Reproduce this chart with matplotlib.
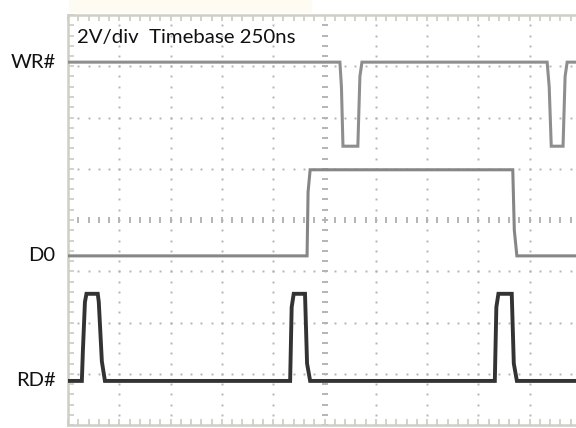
import numpy as np
import matplotlib.pyplot as plt

# time axis in divisions (10 div across), voltage axis in divisions (8 div high)
wr_t = [0, 5.30, 5.33, 5.36, 5.65, 5.69, 5.73, 9.34, 9.38, 9.42, 9.65, 9.69, 9.73, 10.2]
wr_v = [7.08, 7.08, 6.60, 5.44, 5.44, 6.80, 7.08, 7.08, 6.60, 5.44, 5.44, 6.80, 7.08, 7.08]

d0_t = [0, 4.66, 4.68, 4.72, 8.67, 8.70, 8.75, 10.2]
d0_v = [3.30, 3.30, 4.55, 4.98, 4.98, 3.80, 3.30, 3.30]

rd_t = [0, 0.27, 0.29, 0.33, 0.36, 0.58, 0.60, 0.66, 0.72,
        4.33, 4.36, 4.40, 4.62, 4.66, 4.72,
        8.32, 8.35, 8.39, 8.65, 8.69, 8.75, 10.2]
rd_v = [0.86, 0.86, 1.44, 2.40, 2.56, 2.56, 2.40, 1.24, 0.86,
        0.86, 2.30, 2.56, 2.56, 1.20, 0.86,
        0.86, 2.30, 2.56, 2.56, 1.20, 0.86, 0.86]

labels = ["WR#", "D0", "RD#"]
label_y = [7.08, 3.30, 0.86]

fig = plt.figure(figsize=(5.76, 4.28), dpi=100)
fig.patches.append(plt.Rectangle((0.12, 0.972), 0.42, 0.028, transform=fig.transFigure,
                                 color="#fefbf2", zorder=0))
ax = fig.add_axes([68 / 576, 3 / 428, 513 / 576, 410 / 428])
ax.set_xlim(0, 10)
ax.set_ylim(0, 8)

frame = "#cfcfc6"
for s in ["left", "top", "bottom"]:
    ax.spines[s].set_color(frame)
    ax.spines[s].set_linewidth(1.8)
ax.spines["right"].set_visible(False)

ax.set_xticks(np.arange(0, 10.01, 1))
ax.set_xticks(np.arange(0, 10.01, 0.2), minor=True)
ax.set_yticks(np.arange(0, 8.01, 1))
ax.set_yticks(np.arange(0, 8.01, 0.2), minor=True)
ax.tick_params(which="both", direction="in", top=True, bottom=True, left=True, right=False,
               labelbottom=False, labelleft=False, color=frame, width=1.3, length=4)

# dotted grid
gy = np.arange(0, 8.01, 0.2)
gx = np.arange(0, 10.01, 0.2)
for xi in range(1, 10):
    if xi != 5:
        ax.plot(np.full_like(gy, xi), gy, "s", ms=1.4, color="#b4b4b4", mew=0, zorder=1)
for yi in range(1, 8):
    if yi != 4:
        ax.plot(gx, np.full_like(gx, yi), "s", ms=1.4, color="#b4b4b4", mew=0, zorder=1)
# centre lines with tick marks
ax.plot(np.full_like(gy, 5), gy, "_", ms=5, mew=1.4, color="#b4b4b4", zorder=1)
ax.plot(gx, np.full_like(gx, 4), "|", ms=5, mew=1.4, color="#b4b4b4", zorder=1)

ax.plot(wr_t, wr_v, color="#8e8e8e", lw=2.2, zorder=3, solid_joinstyle="miter")
ax.plot(d0_t, d0_v, color="#868686", lw=2.2, zorder=3, solid_joinstyle="miter")
ax.plot(rd_t, rd_v, color="#333333", lw=2.8, zorder=3, solid_joinstyle="miter")

for lab, yv in zip(labels, label_y):
    ax.text(-0.24, yv, lab, ha="right", va="center", fontsize=14.5, family="Lato",
            color="#111111", clip_on=False)

ax.text(0.17, 7.56, "2V/div  Timebase 250ns", ha="left", va="center", fontsize=14.7,
        family="Lato", color="#111111")

fig.savefig("out.png", dpi=100)
